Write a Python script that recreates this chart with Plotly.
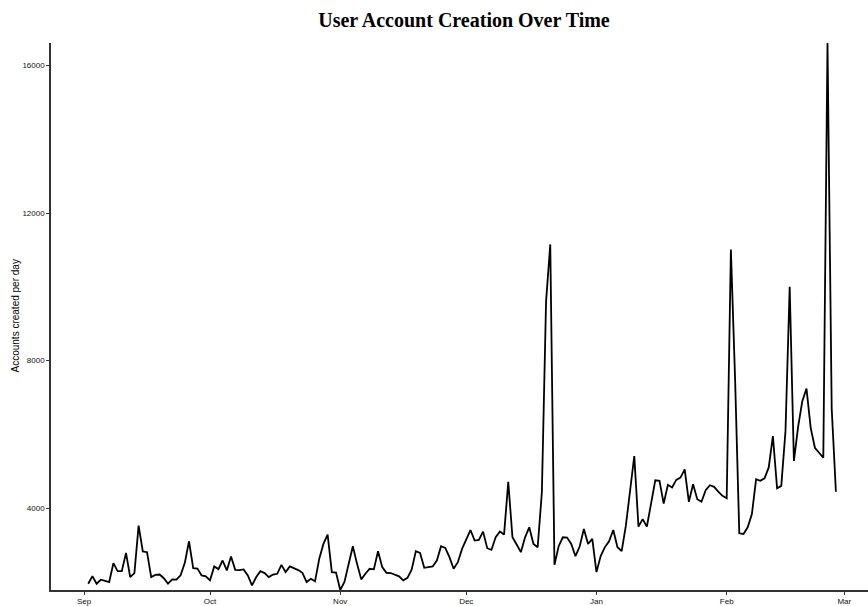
import plotly.graph_objects as go
import pandas as pd

# Daily account creations, 2 Sep -> 27 Feb
start_date = "2013-09-02"
accounts_per_day = [
    1950, 2157, 1950, 2058, 2030, 1996, 2508, 2292, 2292, 2786,
    2130, 2238, 3525, 2824, 2805, 2130, 2190, 2200, 2100, 1950,
    2068, 2060, 2176, 2516, 3101, 2373, 2360, 2176, 2150, 2041,
    2419, 2346, 2580, 2311, 2689, 2328, 2320, 2338, 2176, 1907,
    2130, 2292, 2238, 2130, 2200, 2220, 2462, 2265, 2419, 2380,
    2320, 2247, 1996, 2085, 2014, 2625, 3029, 3282, 2265, 2250,
    1780, 1996, 2489, 2967, 2489, 2068, 2220, 2355, 2340, 2832,
    2400, 2247, 2240, 2193, 2150, 2041, 2110, 2328, 2832, 2786,
    2382, 2400, 2419, 2580, 2967, 2921, 2670, 2355, 2535, 2894,
    3147, 3406, 3120, 3140, 3363, 2913, 2867, 3209, 3363, 3282,
    4712, 3209, 3012, 2805, 3209, 3479, 3029, 2940, 4423, 9600,
    11150, 2462, 2967, 3209, 3200, 3029, 2697, 2958, 3433, 3029,
    3164, 2265, 2700, 2940, 3100, 3406, 2940, 2832, 3525, 4469,
    5413, 3498, 3703, 3498, 4108, 4755, 4739, 4126, 4631, 4558,
    4766, 4828, 5051, 4172, 4647, 4242, 4172, 4485, 4620, 4577,
    4450, 4334, 4269, 11010, 7500, 3317, 3298, 3479, 3838, 4782,
    4739, 4809, 5097, 5953, 4539, 4604, 6090, 10000, 5280, 6200,
    6900, 7240, 6176, 5637, 5500, 5367, 16610, 6700, 4442,
]
dates = pd.date_range(start_date, periods=len(accounts_per_day), freq="D")

x_tick_vals = ["2013-09-01", "2013-10-01", "2013-11-01", "2013-12-01",
               "2014-01-01", "2014-02-01", "2014-03-01"]
x_tick_text = ["Sep", "Oct", "Nov", "Dec", "Jan", "Feb", "Mar"]
y_tick_vals = [4000, 8000, 12000, 16000]
y_tick_text = ["4000", "8000", "12000", "16000"]

axis_col = "#333333"
tick_font = dict(family="Liberation Sans, Arial, sans-serif", size=8, color="#111111")

fig = go.Figure()
fig.add_trace(go.Scatter(
    x=dates, y=accounts_per_day, mode="lines",
    line=dict(color="black", width=1.8), hoverinfo="x+y",
))

fig.update_layout(
    width=868, height=606,
    margin=dict(l=51, r=0, t=43, b=14),
    paper_bgcolor="white", plot_bgcolor="white",
    showlegend=False,
    title=dict(
        text="<b>User Account Creation Over Time</b>",
        font=dict(family="Liberation Serif, Times New Roman, serif", size=20, color="black"),
        x=464 / 868, xref="container", xanchor="center",
        y=1 - 20 / 606, yref="container", yanchor="middle",
    ),
    xaxis=dict(
        range=["2013-08-24 03:27", "2014-03-06 15:24"],
        tickvals=x_tick_vals, ticktext=x_tick_text,
        showgrid=False, zeroline=False,
        showline=True, linecolor=axis_col, linewidth=1.5,
        ticks="outside", ticklen=3, tickcolor=axis_col, tickwidth=1.2,
        tickfont=tick_font,
    ),
    yaxis=dict(
        range=[1780, 16610],
        tickvals=y_tick_vals, ticktext=y_tick_text,
        showgrid=False, zeroline=False,
        showline=True, linecolor=axis_col, linewidth=1.5,
        ticks="outside", ticklen=3, tickcolor=axis_col, tickwidth=1.2,
        tickfont=tick_font,
    ),
    annotations=[dict(
        text="Accounts created per day",
        textangle=-90, showarrow=False,
        xref="paper", yref="paper",
        x=(15 - 51) / 817, y=0.5, xanchor="center", yanchor="middle",
        font=dict(family="Liberation Sans, Arial, sans-serif", size=10, color="black"),
    )],
)

fig.write_html(
    "out.html",
    config={"displayModeBar": False},
    post_script="document.body.style.margin='0';document.body.style.overflow='hidden';",
)
